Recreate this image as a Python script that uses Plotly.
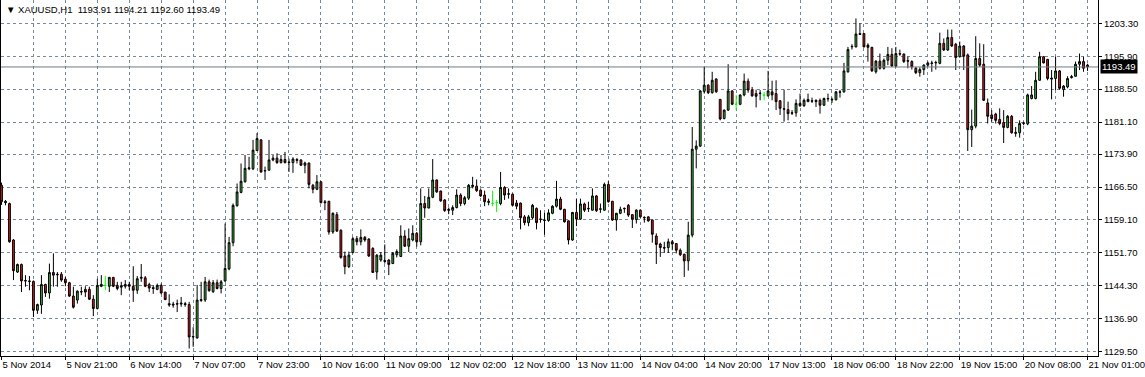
import plotly.graph_objects as go

# ---------------- data (XAUUSD H1) ----------------
open_ = [1166.9,1163.3,1162.8,1154.6,1147.4,1149.1,1145.5,1145.4,1145.3,1138.8,
         1140.0,1144.6,1142.7,1147.3,1146.9,1146.9,1145.8,1145.0,1142.0,1141.1,
         1142.9,1143.5,1143.5,1141.3,1139.2,1144.2,1144.4,1144.2,1146.2,1144.4,
         1144.0,1144.2,1144.6,1144.2,1143.3,1146.0,1146.1,1144.6,1143.9,1143.5,
         1144.4,1142.9,1140.3,1140.2,1140.3,1140.2,1140.3,1140.1,1132.8,1132.6,
         1141.0,1141.1,1145.2,1143.0,1145.0,1143.7,1145.4,1148.1,1154.0,1162.3,
         1165.3,1167.7,1170.6,1170.6,1174.7,1177.1,1170.1,1170.3,1172.6,1173.0,
         1172.0,1172.7,1172.0,1172.0,1172.7,1172.6,1171.4,1171.9,1166.9,1166.0,
         1167.7,1163.2,1163.3,1156.4,1160.3,1156.8,1151.0,1148.6,1151.8,1154.9,
         1154.2,1155.2,1154.8,1152.7,1147.4,1150.1,1150.0,1150.1,1149.3,1151.3,
         1150.9,1155.5,1153.2,1154.6,1156.1,1154.2,1162.8,1161.8,1164.2,1168.1,
         1165.6,1163.6,1161.5,1161.3,1161.9,1164.7,1162.8,1164.0,1166.6,1166.7,
         1165.8,1164.7,1163.3,1162.8,1163.0,1162.8,1166.4,1165.0,1164.9,1162.9,
         1162.9,1159.8,1158.5,1159.6,1161.7,1159.2,1159.1,1159.0,1160.6,1162.2,
         1163.8,1161.5,1158.9,1154.6,1160.8,1159.3,1162.7,1161.6,1161.3,1164.5,
         1161.5,1161.3,1167.1,1163.3,1159.1,1160.6,1161.6,1162.4,1160.3,1159.2,
         1161.3,1159.7,1159.8,1159.1,1155.5,1153.7,1152.9,1152.9,1154.2,1153.8,
         1152.3,1151.4,1149.9,1155.7,1175.0,1175.7,1188.0,1189.4,1187.7,1190.8,
         1186.2,1181.9,1183.8,1188.1,1185.1,1185.1,1187.2,1190.3,1188.3,1187.5,
         1187.5,1187.2,1187.0,1187.9,1187.5,1185.9,1184.1,1183.9,1183.2,1183.2,
         1185.3,1184.8,1186.2,1185.9,1186.0,1186.0,1184.9,1186.3,1186.2,1186.1,
         1187.9,1187.9,1192.4,1198.0,1198.0,1201.0,1201.0,1198.4,1197.9,1192.4,
         1194.8,1193.2,1195.0,1196.3,1193.7,1196.5,1196.4,1194.9,1194.7,1193.2,
         1192.2,1192.9,1193.9,1194.4,1194.4,1194.3,1198.8,1197.3,1200.1,1198.6,
         1195.8,1198.2,1196.2,1179.4,1180.2,1195.4,1194.1,1185.4,1182.7,1182.9,
         1181.7,1181.0,1179.9,1182.4,1178.8,1178.7,1180.8,1180.7,1186.4,1186.4,
         1190.5,1195.8,1195.2,1191.0,1190.9,1192.6,1188.4,1189.0,1191.1,1191.4,
         1194.1,1194.7,1193.91]
high = [1167.5,1163.6,1163.0,1154.8,1149.3,1149.3,1146.7,1146.5,1145.5,1140.3,
        1146.7,1144.8,1149.3,1151.6,1147.4,1147.4,1146.3,1145.2,1144.1,1143.3,
        1144.1,1144.2,1144.1,1142.2,1145.9,1146.7,1146.5,1146.3,1146.3,1145.2,
        1145.2,1145.6,1145.2,1148.7,1146.5,1149.2,1146.5,1145.0,1144.4,1144.8,
        1144.8,1142.9,1142.4,1140.7,1141.2,1141.8,1140.7,1140.7,1135.0,1144.5,
        1145.2,1146.3,1145.7,1145.6,1145.7,1145.6,1158.3,1155.3,1162.8,1167.3,
        1171.8,1173.7,1173.3,1177.1,1178.6,1177.3,1171.1,1177.1,1173.7,1174.1,
        1173.7,1174.4,1172.9,1173.2,1173.0,1172.7,1172.2,1172.0,1167.2,1169.2,
        1167.8,1163.6,1163.4,1160.8,1160.9,1157.0,1152.0,1152.0,1155.3,1155.5,
        1157.0,1155.5,1155.0,1153.0,1151.4,1151.9,1153.6,1150.3,1151.9,1152.5,
        1157.9,1156.8,1157.2,1157.9,1156.4,1166.2,1164.5,1166.2,1172.8,1168.2,
        1165.7,1163.8,1161.9,1162.4,1166.0,1165.1,1164.5,1167.2,1168.8,1168.2,
        1166.0,1165.7,1163.9,1165.7,1163.6,1169.9,1166.7,1166.2,1165.0,1163.6,
        1163.0,1160.2,1160.2,1162.7,1161.9,1161.3,1160.7,1161.5,1162.4,1167.9,
        1164.3,1161.6,1159.0,1160.9,1163.8,1163.9,1163.0,1163.2,1166.2,1164.7,
        1162.8,1167.5,1167.8,1163.4,1160.7,1162.1,1161.9,1162.7,1160.4,1161.5,
        1161.5,1159.9,1159.9,1159.2,1156.1,1154.0,1154.2,1154.9,1154.6,1153.9,
        1152.7,1151.5,1158.7,1180.0,1177.0,1188.3,1193.5,1189.6,1192.4,1190.9,
        1186.3,1183.9,1194.1,1188.3,1187.2,1187.3,1192.0,1190.9,1189.0,1188.4,
        1188.3,1187.9,1192.6,1190.4,1190.5,1186.0,1188.4,1185.7,1183.8,1186.2,
        1187.5,1186.4,1187.5,1186.6,1186.2,1186.4,1186.6,1187.5,1186.6,1188.1,
        1188.3,1194.4,1198.0,1198.6,1204.4,1203.3,1201.1,1198.8,1198.0,1195.0,
        1196.5,1195.4,1198.0,1197.7,1198.0,1197.4,1196.5,1195.8,1195.0,1193.5,
        1193.4,1194.1,1194.7,1194.9,1194.9,1201.2,1199.9,1201.9,1201.9,1198.9,
        1199.2,1198.4,1196.5,1183.9,1200.4,1198.8,1198.6,1186.4,1183.8,1183.2,
        1184.2,1183.8,1182.7,1182.7,1180.0,1181.5,1181.2,1187.5,1189.2,1192.4,
        1196.9,1195.9,1195.3,1192.8,1195.8,1192.8,1189.4,1191.4,1191.7,1194.7,
        1196.5,1195.8,1194.21]
low = [1162.5,1162.4,1154.0,1145.6,1147.2,1142.9,1144.1,1143.3,1137.3,1138.0,
       1138.0,1141.8,1141.4,1144.1,1144.1,1145.2,1144.2,1141.8,1139.2,1140.3,
       1142.2,1141.8,1141.1,1137.5,1139.0,1144.0,1143.3,1142.9,1144.0,1143.3,
       1142.2,1143.7,1143.3,1140.7,1142.5,1145.2,1144.0,1142.9,1142.5,1143.3,
       1142.4,1141.1,1139.6,1139.4,1138.4,1139.6,1139.6,1130.2,1130.6,1132.4,
       1140.7,1140.7,1143.0,1142.7,1143.5,1142.6,1145.2,1147.8,1153.2,1162.1,
       1165.1,1167.5,1170.3,1170.3,1174.7,1169.7,1168.1,1170.2,1172.3,1171.7,
       1171.8,1171.8,1169.9,1169.7,1171.8,1171.3,1169.6,1166.2,1165.1,1165.8,
       1162.8,1161.3,1155.8,1156.0,1156.4,1150.4,1146.9,1148.3,1151.6,1153.4,
       1153.4,1154.2,1150.8,1147.2,1145.7,1149.7,1149.3,1146.7,1149.2,1150.7,
       1150.8,1153.1,1151.9,1154.3,1153.1,1153.4,1159.6,1161.7,1164.0,1165.2,
       1163.2,1160.9,1160.4,1160.2,1161.7,1162.2,1162.4,1163.6,1166.2,1165.4,
       1164.3,1162.2,1162.4,1162.2,1160.9,1162.4,1163.6,1163.9,1162.2,1161.5,
       1157.0,1157.9,1157.7,1159.2,1157.0,1158.5,1155.8,1158.7,1160.4,1161.9,
       1161.3,1158.5,1153.6,1154.4,1157.7,1159.1,1160.9,1160.9,1161.2,1160.9,
       1160.7,1161.2,1163.0,1158.9,1156.7,1160.4,1160.7,1159.8,1157.3,1158.3,
       1159.6,1158.5,1158.7,1154.0,1149.2,1150.8,1151.7,1151.7,1152.3,1151.6,
       1151.0,1146.3,1147.7,1155.2,1170.7,1175.5,1187.5,1187.4,1187.5,1187.7,
       1181.5,1181.7,1183.6,1184.9,1183.8,1184.9,1186.9,1187.7,1186.8,1184.4,
       1186.0,1186.0,1186.8,1186.0,1183.8,1182.7,1181.2,1181.5,1182.7,1182.3,
       1184.5,1184.5,1185.6,1185.4,1184.5,1183.0,1184.7,1185.7,1185.4,1186.0,
       1186.6,1187.7,1192.2,1197.4,1197.9,1200.7,1197.9,1194.7,1192.4,1192.0,
       1192.9,1192.9,1193.9,1193.5,1193.4,1196.0,1194.4,1193.2,1192.9,1191.9,
       1191.3,1191.7,1193.5,1192.4,1192.9,1194.1,1197.1,1197.1,1198.0,1192.8,
       1195.6,1192.8,1174.6,1175.5,1179.7,1193.5,1185.9,1180.8,1181.2,1180.8,
       1180.4,1176.4,1179.7,1178.5,1177.8,1177.6,1180.4,1180.4,1186.2,1186.2,
       1190.4,1194.3,1190.5,1186.2,1188.3,1188.4,1186.8,1188.7,1190.9,1191.3,
       1192.8,1192.4,1192.60]
close = [1163.2,1163.0,1154.2,1147.7,1149.1,1145.4,1145.4,1145.3,1138.8,1140.1,
         1144.6,1142.7,1147.3,1146.7,1146.8,1145.6,1145.0,1142.0,1139.5,1143.1,
         1143.0,1142.9,1141.3,1139.2,1144.4,1144.6,1144.4,1146.2,1144.2,1143.7,
         1144.3,1144.6,1144.2,1143.3,1145.9,1146.2,1144.2,1143.8,1143.7,1144.4,
         1142.7,1141.2,1140.0,1140.0,1140.2,1140.4,1140.1,1132.8,1132.9,1141.1,
         1141.2,1145.2,1143.2,1145.0,1143.7,1145.2,1148.2,1154.0,1162.4,1165.4,
         1167.8,1170.7,1170.8,1174.8,1177.4,1169.9,1170.2,1172.6,1173.0,1172.0,
         1172.7,1172.0,1172.1,1172.8,1172.5,1171.4,1171.9,1167.1,1166.0,1167.7,
         1163.0,1163.0,1156.4,1160.6,1156.6,1150.7,1148.6,1151.2,1154.9,1154.2,
         1155.2,1154.6,1151.0,1147.3,1151.2,1151.2,1149.8,1149.1,1151.6,1152.0,
         1155.5,1153.2,1154.9,1156.1,1154.2,1162.8,1161.8,1164.2,1168.1,1165.4,
         1163.4,1161.2,1161.3,1161.9,1164.7,1162.8,1164.1,1166.9,1166.9,1165.7,
         1164.5,1163.2,1163.1,1162.8,1163.0,1166.4,1164.7,1164.9,1162.4,1162.2,
         1159.6,1158.5,1159.8,1162.4,1158.5,1159.3,1159.0,1160.7,1162.2,1163.8,
         1161.5,1158.7,1154.6,1160.8,1159.3,1162.7,1161.3,1161.7,1164.5,1161.2,
         1161.6,1167.1,1163.2,1159.1,1160.6,1161.5,1161.7,1160.2,1159.3,1161.3,
         1159.8,1159.6,1158.9,1155.9,1153.6,1152.9,1152.8,1154.2,1153.7,1152.3,
         1151.3,1149.9,1155.7,1175.0,1175.7,1188.1,1189.4,1187.7,1190.5,1187.9,
         1181.8,1183.8,1188.1,1185.1,1185.1,1187.2,1190.3,1188.3,1187.0,1186.9,
         1187.6,1187.2,1188.1,1187.2,1185.7,1184.2,1184.0,1183.0,1183.1,1185.3,
         1184.8,1186.0,1185.7,1185.8,1185.7,1184.9,1186.4,1186.4,1186.1,1187.9,
         1187.8,1192.6,1197.4,1198.1,1200.9,1200.8,1198.0,1197.9,1192.6,1194.8,
         1193.2,1195.0,1196.3,1193.7,1196.5,1196.4,1194.7,1194.8,1193.5,1192.2,
         1192.9,1193.9,1194.4,1194.3,1194.5,1198.8,1197.3,1200.1,1198.2,1195.6,
         1198.2,1195.9,1179.4,1180.2,1195.4,1193.9,1186.0,1182.4,1181.9,1181.5,
         1180.8,1179.9,1182.4,1178.7,1178.6,1180.8,1180.9,1187.2,1187.2,1190.5,
         1195.8,1194.4,1190.9,1190.8,1192.6,1188.7,1189.2,1190.9,1191.3,1194.1,
         1194.7,1193.2,1193.49]

tick_labels = ["5 Nov 2014", "5 Nov 21:00", "6 Nov 14:00", "7 Nov 07:00", "7 Nov 23:00",
               "10 Nov 16:00", "11 Nov 09:00", "12 Nov 02:00", "12 Nov 18:00", "13 Nov 11:00",
               "14 Nov 04:00", "14 Nov 20:00", "17 Nov 13:00", "18 Nov 06:00", "18 Nov 22:00",
               "19 Nov 15:00", "20 Nov 08:00", "21 Nov 01:00"]
price_ticks = [1129.50, 1136.90, 1144.30, 1151.70, 1159.10, 1166.50, 1173.90,
               1181.10, 1188.50, 1195.90, 1203.30]
price_tick_text = ["1129.50", "1136.90", "1144.30", "1151.70", "1159.10", "1166.50",
                   "1173.90", "1181.10", "1188.50", "1195.90", "1203.30"]
symbol_title = "XAUUSD,H1"

# ---------------- figure ----------------
n = len(close)
bars = list(range(n))
norm = [i for i in bars if open_[i] != close[i]]
doji = [i for i in bars if open_[i] == close[i]]

GREEN = "#3fb03f"
RED = "#d41a1a"
GRID = "#778899"
FONT = "Liberation Sans, Arial, sans-serif"

fig = go.Figure()
fig.add_trace(go.Candlestick(
    x=[bars[i] for i in norm],
    open=[open_[i] for i in norm], high=[high[i] for i in norm],
    low=[low[i] for i in norm], close=[close[i] for i in norm],
    increasing=dict(line=dict(color="black", width=1), fillcolor=GREEN),
    decreasing=dict(line=dict(color="black", width=1), fillcolor=RED),
    whiskerwidth=0, showlegend=False, hoverinfo="skip",
))
fig.add_trace(go.Candlestick(
    x=[bars[i] for i in doji],
    open=[open_[i] for i in doji], high=[high[i] for i in doji],
    low=[low[i] for i in doji], close=[close[i] for i in doji],
    increasing=dict(line=dict(color="#00ff00", width=1), fillcolor="#00ff00"),
    decreasing=dict(line=dict(color="#00ff00", width=1), fillcolor="#00ff00"),
    whiskerwidth=0, showlegend=False, hoverinfo="skip",
))

last = close[-1]
fig.add_shape(type="line", xref="paper", x0=0, x1=1, yref="y", y0=last, y1=last,
              line=dict(color="#6f7a86", width=1), layer="above")

fig.add_annotation(xref="paper", x=1, yref="y", y=last, xanchor="left", yanchor="middle",
                   text=f"{last:.2f}", showarrow=False, xshift=2,
                   bgcolor="black", font=dict(color="white", size=9.5, family=FONT),
                   borderpad=1)

title_vals = "\u00a0".join(f"{v:.2f}" for v in (open_[-1], high[-1], low[-1], close[-1]))
fig.add_annotation(xref="paper", x=0, yref="paper", y=1, xanchor="left", yanchor="top",
                   text="\u25bc\u00a0" + symbol_title + "\u00a0\u00a0" + title_vals,
                   showarrow=False, xshift=3, yshift=-2,
                   font=dict(color="black", size=9.5, family=FONT))

fig.update_layout(
    width=1145, height=377,
    margin=dict(l=1, r=45, t=0, b=21),
    paper_bgcolor="white", plot_bgcolor="white",
    boxgap=0.35,
    font=dict(family=FONT, size=9.5, color="black"),
    hovermode=False,
    xaxis=dict(
        range=[-0.125, 274.625],
        rangeslider=dict(visible=False),
        tickmode="array", tickvals=bars[::16], ticktext=tick_labels,
        ticklabelposition="outside right", tickangle=0,
        ticklabeloverflow="allow",
        ticks="outside", ticklen=3, tickcolor="black",
        showline=True, linecolor="black", linewidth=1,
        showgrid=True, gridcolor=GRID, griddash="3px,3px", gridwidth=1,
        minor=dict(tickmode="array", tickvals=bars[::8], showgrid=True,
                   gridcolor=GRID, griddash="3px,3px", gridwidth=1, ticks=""),
        zeroline=False, fixedrange=True,
    ),
    yaxis=dict(
        side="right",
        range=[1128.53, 1208.54],
        tickmode="array", tickvals=price_ticks, ticktext=price_tick_text,
        ticks="outside", ticklen=3, tickcolor="black",
        showline=True, linecolor="black", linewidth=1, mirror=True,
        showgrid=True, gridcolor=GRID, griddash="3px,3px", gridwidth=1,
        zeroline=False, fixedrange=True,
    ),
)

fig.write_html("out.html", config={"displayModeBar": False},
               post_script="document.body.style.margin='0';document.body.style.overflow='hidden';")
